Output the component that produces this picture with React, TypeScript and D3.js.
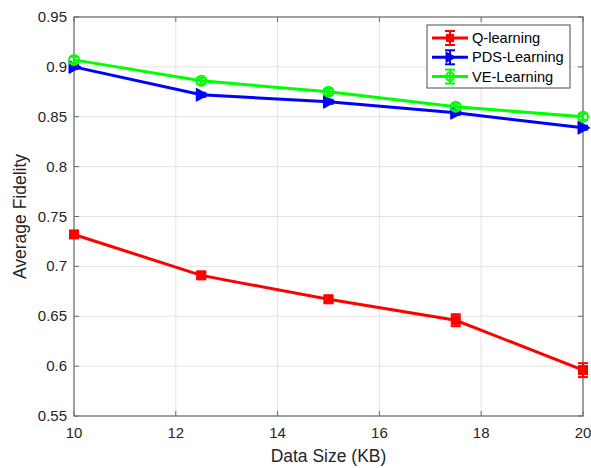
import React from "react";
import * as d3 from "d3";

const dataSizes = [10, 12.5, 15, 17.5, 20];
const qLearning = [0.732, 0.691, 0.667, 0.646, 0.596];
const qLearningErr = [0.003, 0.003, 0.003, 0.006, 0.007];
const pdsLearning = [0.9, 0.872, 0.865, 0.854, 0.839];
const pdsLearningErr = [0.002, 0.002, 0.002, 0.002, 0.002];
const veLearning = [0.907, 0.886, 0.875, 0.86, 0.85];
const veLearningErr = [0.003, 0.003, 0.003, 0.003, 0.003];
const xTicks = [10, 12, 14, 16, 18, 20];
const yTicks = [0.55, 0.6, 0.65, 0.7, 0.75, 0.8, 0.85, 0.9, 0.95];
const seriesNames = ["Q-learning", "PDS-Learning", "VE-Learning"];
const seriesColors = ["#ff0000", "#0000ff", "#00ff00"];

const W = 591;
const H = 468;
const left = 74;
const right = 583;
const top = 17;
const bottom = 416;
const font = "'Liberation Sans', Arial, sans-serif";
const axisColor = "#6b6b6b";
const textColor = "#262626";

type Marker = "square" | "triangle" | "circle";

function MarkerShape({ kind, x, y, color, s = 1 }: { kind: Marker; x: number; y: number; color: string; s?: number }) {
  if (kind === "square") {
    const h = 4.5 * s;
    return <rect x={x - h} y={y - h} width={2 * h} height={2 * h} fill={color} stroke={color} strokeWidth={1} />;
  }
  if (kind === "triangle") {
    return (
      <path
        d={`M${x - 5 * s},${y - 6.5 * s} L${x + 7 * s},${y} L${x - 5 * s},${y + 6.5 * s} Z`}
        fill={color}
        stroke={color}
        strokeWidth={1}
      />
    );
  }
  return <circle cx={x} cy={y} r={5 * s} fill="none" stroke={color} strokeWidth={2} />;
}

export default function App() {
  const x = d3.scaleLinear().domain([10, 20]).range([left, right]);
  const y = d3.scaleLinear().domain([0.55, 0.95]).range([bottom, top]);

  const series = [
    { name: seriesNames[0], values: qLearning, err: qLearningErr, color: seriesColors[0], marker: "square" as Marker },
    { name: seriesNames[1], values: pdsLearning, err: pdsLearningErr, color: seriesColors[1], marker: "triangle" as Marker },
    { name: seriesNames[2], values: veLearning, err: veLearningErr, color: seriesColors[2], marker: "circle" as Marker },
  ];

  const line = d3
    .line<number>()
    .x((_, i) => x(dataSizes[i]))
    .y((v) => y(v));

  const legX = 427;
  const legY = 25;
  const legW = 143;
  const legH = 63;

  return (
    <svg width={W} height={H} style={{ position: "absolute", left: 0, top: 0, background: "#fff" }}>
      <rect x={0} y={0} width={W} height={H} fill="#fff" />
      {/* grid */}
      {xTicks.map((t) => (
        <line key={"gx" + t} x1={x(t)} x2={x(t)} y1={top} y2={bottom} stroke="#e3e3e3" strokeWidth={1} />
      ))}
      {yTicks.map((t) => (
        <line key={"gy" + t} x1={left} x2={right} y1={y(t)} y2={y(t)} stroke="#e3e3e3" strokeWidth={1} />
      ))}
      {/* axis box */}
      <rect x={left} y={top} width={right - left} height={bottom - top} fill="none" stroke={axisColor} strokeWidth={1.2} />
      {/* ticks */}
      {xTicks.map((t) => (
        <g key={"tx" + t}>
          <line x1={x(t)} x2={x(t)} y1={bottom} y2={bottom - 5} stroke={axisColor} />
          <line x1={x(t)} x2={x(t)} y1={top} y2={top + 5} stroke={axisColor} />
          <text x={x(t)} y={bottom + 22} textAnchor="middle" fontFamily={font} fontSize={15} fill={textColor}>
            {t}
          </text>
        </g>
      ))}
      {yTicks.map((t) => (
        <g key={"ty" + t}>
          <line x1={left} x2={left + 5} y1={y(t)} y2={y(t)} stroke={axisColor} />
          <line x1={right} x2={right - 5} y1={y(t)} y2={y(t)} stroke={axisColor} />
          <text x={left - 7} y={y(t) + 5} textAnchor="end" fontFamily={font} fontSize={15} fill={textColor}>
            {d3.format("")(+t.toFixed(2))}
          </text>
        </g>
      ))}
      {/* axis titles */}
      <text x={(left + right) / 2} y={462} textAnchor="middle" fontFamily={font} fontSize={17.5} fill={textColor}>
        Data Size (KB)
      </text>
      <text
        transform={`translate(26, ${(top + bottom) / 2}) rotate(-90)`}
        textAnchor="middle"
        fontFamily={font}
        fontSize={17.5}
        fill={textColor}
      >
        Average Fidelity
      </text>
      {/* series */}
      {series.map((s) => (
        <g key={s.name}>
          <path d={line(s.values) || ""} fill="none" stroke={s.color} strokeWidth={3} />
          {s.values.map((v, i) => {
            const cx = x(dataSizes[i]);
            const y1 = y(v - s.err[i]);
            const y2 = y(v + s.err[i]);
            return (
              <g key={i}>
                <line x1={cx} x2={cx} y1={y1} y2={y2} stroke={s.color} strokeWidth={2} />
                <line x1={cx - 5} x2={cx + 5} y1={y1} y2={y1} stroke={s.color} strokeWidth={2} />
                <line x1={cx - 5} x2={cx + 5} y1={y2} y2={y2} stroke={s.color} strokeWidth={2} />
                <MarkerShape kind={s.marker} x={cx} y={y(v)} color={s.color} />
              </g>
            );
          })}
        </g>
      ))}
      {/* legend */}
      <rect x={legX} y={legY} width={legW} height={legH} fill="#fff" stroke="#4d4d4d" strokeWidth={1} />
      {series.map((s, i) => {
        const ly = legY + 13 + i * 19.3;
        const mx = legX + 23;
        return (
          <g key={"leg" + s.name}>
            <line x1={legX + 5} x2={legX + 41} y1={ly} y2={ly} stroke={s.color} strokeWidth={3} />
            <line x1={mx} x2={mx} y1={ly - 7} y2={ly + 7} stroke={s.color} strokeWidth={2} />
            <line x1={mx - 5} x2={mx + 5} y1={ly - 7} y2={ly - 7} stroke={s.color} strokeWidth={2} />
            <line x1={mx - 5} x2={mx + 5} y1={ly + 7} y2={ly + 7} stroke={s.color} strokeWidth={2} />
            <MarkerShape kind={s.marker} x={mx} y={ly} color={s.color} s={0.8} />
            <text x={legX + 45} y={ly + 5} fontFamily={font} fontSize={14.6} fill="#000">
              {s.name}
            </text>
          </g>
        );
      })}
    </svg>
  );
}
